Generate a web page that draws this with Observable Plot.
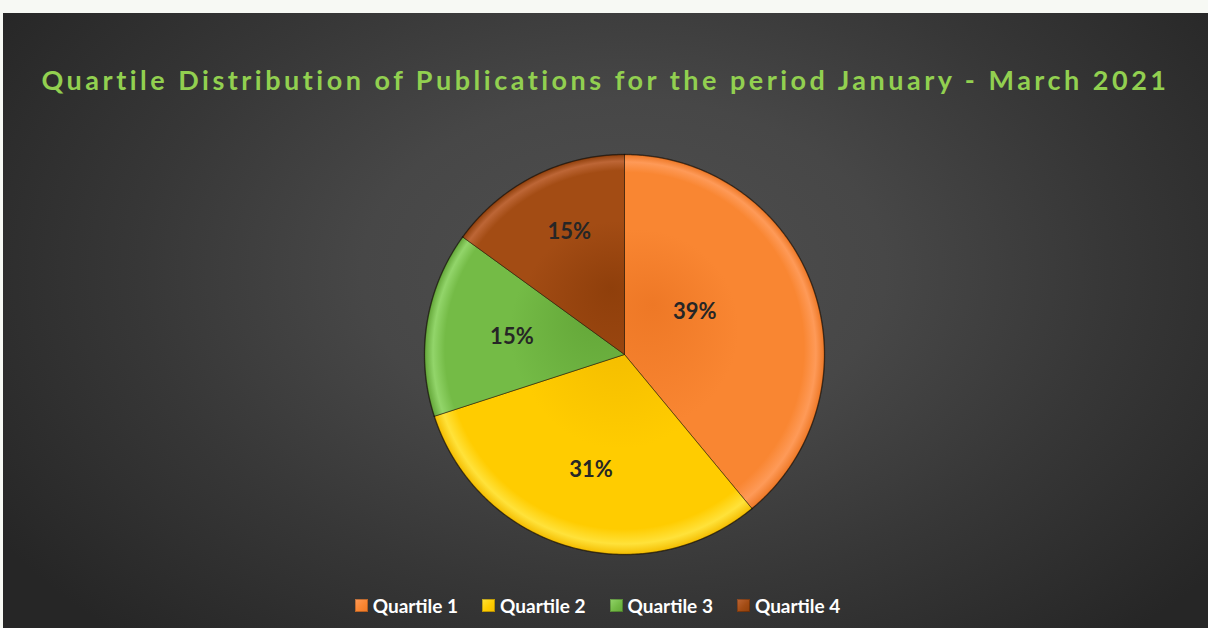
<!DOCTYPE html>
<html>
<head>
<meta charset="utf-8">
<script src="https://cdn.jsdelivr.net/npm/d3@7"></script>
<script src="https://cdn.jsdelivr.net/npm/@observablehq/plot@0.6"></script>
<style>
  html, body { margin: 0; padding: 0; }
  body { width: 1208px; height: 628px; background: #f7f9f4; position: relative; overflow: hidden; font-family: Lato, "Noto Sans", sans-serif; }
  #panel { position: absolute; left: 3px; top: 13px; width: 1205px; height: 615px;
    background: radial-gradient(ellipse 62% 80% at 51.5% 42%, #4f4f4f 0%, #474747 35%, #373737 65%, #262626 100%); }
  #title { position: absolute; left: 0; width: 1205px; top: 50px; text-align: center; color: #92d050;
    font-weight: 700; font-size: 27px; letter-spacing: 3.5px; white-space: nowrap; }
  #chart { position: absolute; left: 0; top: 131px; }
  #legend { position: absolute; left: 0; width: 1189px; top: 581px; display: flex; justify-content: center; gap: 24px;
    color: #ffffff; font-weight: 700; font-size: 19px; }
  .item { display: flex; align-items: center; gap: 5px; }
  .sw { width: 13px; height: 13px; display: inline-block; }
</style>
</head>
<body>
<div id="panel">
  <div id="title"></div>
  <div id="chart"></div>
  <div id="legend"></div>
</div>
<script>
const titleText = "Quartile Distribution of Publications for the period January - March 2021";
const categories = ["Quartile 1", "Quartile 2", "Quartile 3", "Quartile 4"];
const shares = [39, 31, 15, 15];
const labels = ["39%", "31%", "15%", "15%"];
const baseColors = ["#f98632", "#ffcc00", "#74bb46", "#a34c14"];
const lightColors = ["#fe9a58", "#ffe23a", "#92d56a", "#bd6636"];
const darkColors = ["#ee7826", "#f4bd00", "#63a638", "#8f3f0b"];

document.getElementById("title").textContent = titleText;

const arcs = d3.pie().sort(null).value(d => d)(shares);

// build slice outlines from the data
const slicePts = arcs.map((a, i) => {
  const pts = [{x: 0, y: 0, i}];
  const n = Math.max(8, Math.ceil((a.endAngle - a.startAngle) / 0.01));
  for (let k = 0; k <= n; k++) {
    const t = a.startAngle + (a.endAngle - a.startAngle) * k / n;
    pts.push({x: Math.sin(t), y: Math.cos(t), i});
  }
  pts.push({x: 0, y: 0, i});
  return pts;
});

// label placement (fraction of radius, fraction of slice angle)
const labelRadius = [0.41, 0.6, 0.57, 0.67];
const labelAngleFrac = [0.42, 0.5, 0.5, 0.55];
const labelData = arcs.map((a, i) => {
  const m = a.startAngle + (a.endAngle - a.startAngle) * labelAngleFrac[i];
  return {x: Math.sin(m) * labelRadius[i], y: Math.cos(m) * labelRadius[i], text: labels[i], i};
});

const marks = slicePts.map((pts, i) => Plot.line(pts, {
  x: "x", y: "y", fill: `url(#grad${i})`, stroke: "rgba(40,25,10,0.55)", strokeWidth: 1, curve: "linear"
}));
marks.push(Plot.line(slicePts.flat().filter(p => !(p.x === 0 && p.y === 0)), {
  x: "x", y: "y", z: "i", fill: "none", stroke: "rgba(0,0,0,0.35)", strokeWidth: 1.5
}));
marks.push(Plot.text(labelData, {
  x: "x", y: "y", text: "text", fill: "#262626", fontSize: 22, fontWeight: 700,
  fontFamily: "Lato, 'Noto Sans', sans-serif"
}));

const W = 1205, H = 420, cx = 621, cy = 210, R = 200;
const svg = Plot.plot({
  width: W, height: H,
  style: {background: "transparent", overflow: "visible"},
  x: {domain: [-1, 1], range: [cx - R, cx + R], axis: null},
  y: {domain: [-1, 1], range: [cy + R, cy - R], axis: null},
  marks
});

// gradient definitions for bevel-like shading
const defs = d3.select(svg).insert("defs", ":first-child");
baseColors.forEach((c, i) => {
  const a = arcs[i];
  const m = (a.startAngle + a.endAngle) / 2;
  const g = defs.append("radialGradient").attr("id", `grad${i}`)
    .attr("gradientUnits", "userSpaceOnUse")
    .attr("cx", cx).attr("cy", cy).attr("r", R)
    .attr("fx", cx + Math.sin(m) * R * 0.15).attr("fy", cy - Math.cos(m) * R * 0.15 - 40);
  g.append("stop").attr("offset", "0%").attr("stop-color", darkColors[i]);
  g.append("stop").attr("offset", "50%").attr("stop-color", c);
  g.append("stop").attr("offset", "88%").attr("stop-color", c);
  g.append("stop").attr("offset", "95%").attr("stop-color", lightColors[i]);
  g.append("stop").attr("offset", "100%").attr("stop-color", darkColors[i]);
});
document.getElementById("chart").appendChild(svg);

const legend = d3.select("#legend");
categories.forEach((c, i) => {
  const it = legend.append("div").attr("class", "item");
  it.append("span").attr("class", "sw")
    .style("background", `linear-gradient(135deg, ${lightColors[i]}, ${baseColors[i]} 55%, ${darkColors[i]})`)
    .style("box-shadow", "inset 0 0 0 1px rgba(0,0,0,0.25)");
  it.append("span").text(c);
});
</script>
</body>
</html>
